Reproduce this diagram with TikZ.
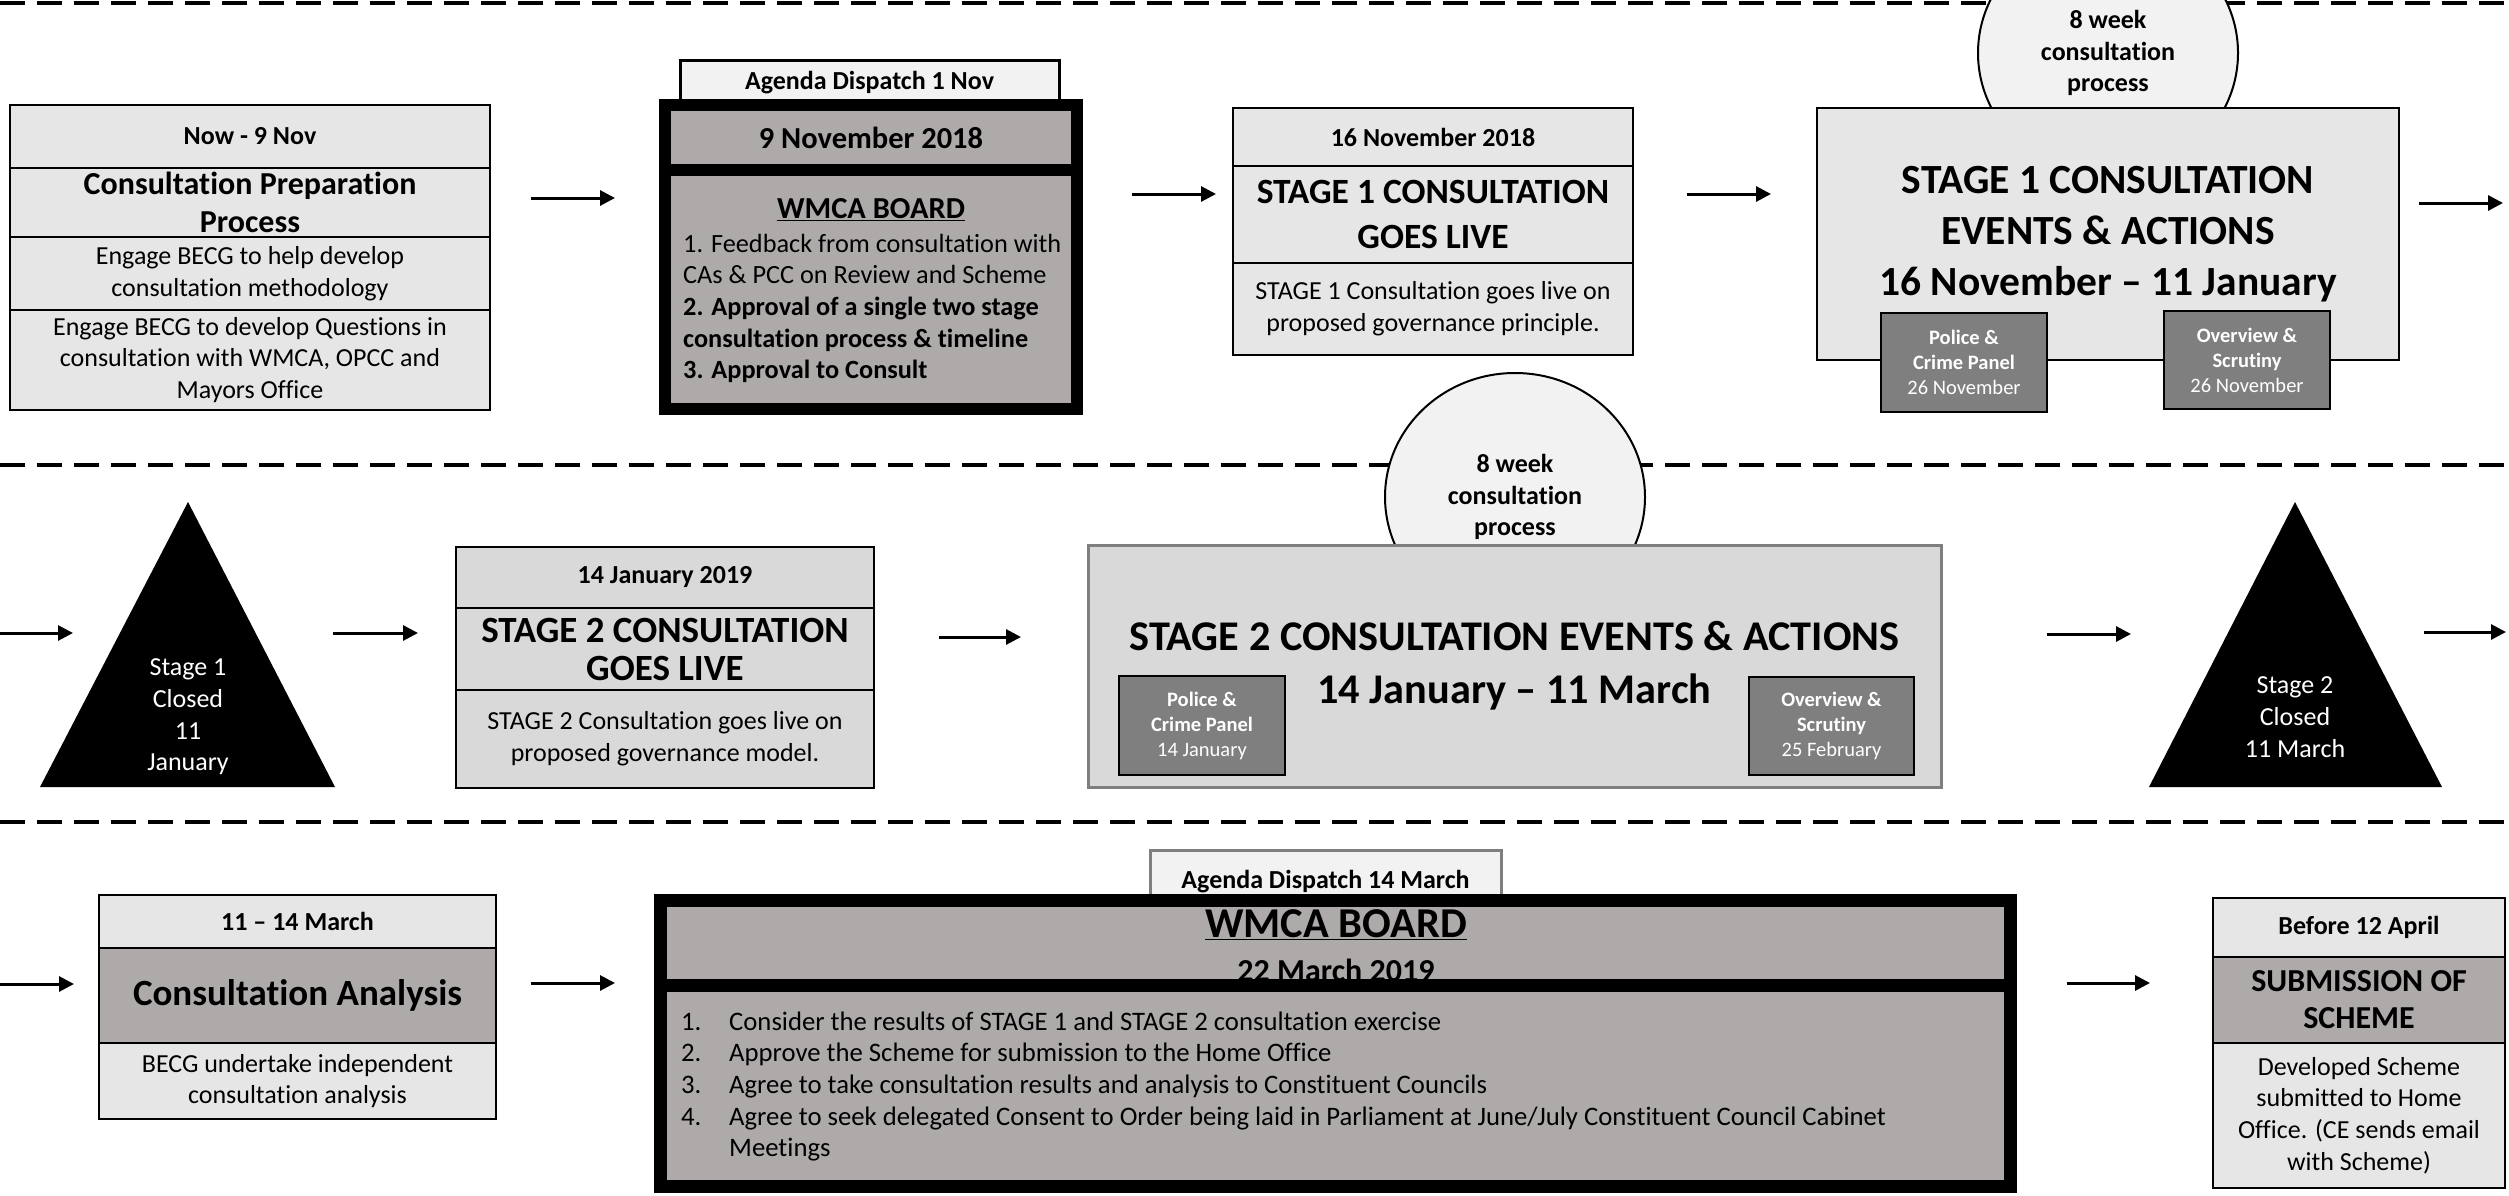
\documentclass[tikz,border=0pt]{standalone}
\usepackage{fontspec}
\setmainfont{Carlito}[Ligatures={TeX,NoCommon},RawFeature={-calt}]
\usetikzlibrary{shapes,arrows.meta}
\definecolor{boxgray}{HTML}{E6E6E6}
\definecolor{midgray}{HTML}{D9D9D9}
\definecolor{boardgray}{HTML}{AEAAAA}
\definecolor{tabgray}{HTML}{F2F2F2}
\definecolor{panelgray}{HTML}{7F7F7F}
\newcommand{\fnhead}{\fontsize{26}{31.7}\selectfont\bfseries}
\newcommand{\fnbody}{\fontsize{26}{31.7}\selectfont}
\newcommand{\fnsmall}{\fontsize{20.5}{25}\selectfont}
\tikzstyle{cell}=[rectangle,draw=black,fill=boxgray,line width=2.5,
inner sep=0pt,align=center]
\tikzstyle{board}=[rectangle,draw=black,fill=boardgray,line width=12,inner sep=0pt]
\tikzstyle{tabbox}=[rectangle,draw=black,fill=tabgray,line width=3,inner sep=0pt]
\tikzstyle{panel}=[rectangle,draw=black,fill=panelgray,line width=2.5,inner sep=0pt,
align=center,text=white,font=\fnsmall]
\tikzstyle{bubble}=[ellipse,draw=black,fill=tabgray,line width=2,inner sep=0pt,
align=center,font=\fnhead,minimum width=260,minimum height=248]
\tikzstyle{tritext}=[align=center,text=white,font=\fnbody,inner sep=0pt]
\tikzstyle{arr}=[-{Triangle[length=15pt,width=15pt]},line width=3]
\tikzstyle{divider}=[dash pattern=on 25pt off 12pt,line width=4]

\begin{document}
\begin{tikzpicture}[x=1pt,y=-1pt]
        \useasboundingbox (0,0) rectangle (2509,1196);
        \draw [style=divider] (0,3) -- (2509,3);
        \draw [style=divider] (0,465) -- (2509,465);
        \draw [style=divider] (0,822) -- (2509,822);
        % row 1
        \node [style=cell,minimum width=480,minimum height=63,font=\fnhead] (prep1) at (250,136.5) {Now - 9 Nov};
        \node [style=cell,minimum width=480,minimum height=69,font={\fontsize{32}{38}\selectfont\bfseries}] (prep2) at (250,202.5) {Consultation Preparation\\Process};
        \node [style=cell,minimum width=480,minimum height=73,font=\fnbody] (prep3) at (250,273.5) {Engage BECG to help develop\\consultation methodology};
        \node [style=cell,minimum width=480,minimum height=100,font=\fnbody] (prep4) at (250,360) {Engage BECG to develop Questions in\\consultation with WMCA, OPCC and\\Mayors Office};
        \node [style=tabbox,minimum width=379,minimum height=44,font=\fnhead] (agenda1) at (869.5,83) {Agenda Dispatch 1 Nov};
        \node [style=board,minimum width=412,minimum height=65,font={\fontsize{30.5}{37}\selectfont\bfseries}] (board1h) at (871,137.5) {9 November 2018};
        \node [style=board,minimum width=412,minimum height=239] (board1b) at (871,289.5) {};
        \node [font={\fontsize{30.5}{37}\selectfont\bfseries},inner sep=0pt] (board1t) at (871,210) {\underline{WMCA BOARD}};
        \node [anchor=west,align=left,inner sep=0pt,font={\fontsize{26.3}{31.7}\selectfont}] (board1l) at (683,308.5) {1. Feedback from consultation with\\CAs \& PCC on Review and Scheme\\\textbf{2. Approval of a single two stage}\\\textbf{consultation process \& timeline}\\\textbf{3. Approval to Consult}};
        \node [style=cell,minimum width=400,minimum height=58,font=\fnhead] (live1a) at (1433,137) {16 November 2018};
        \node [style=cell,minimum width=400,minimum height=97,font={\fontsize{35.5}{45}\selectfont\bfseries}] (live1b) at (1433,214.5) {STAGE 1 CONSULTATION\\GOES LIVE};
        \node [style=cell,minimum width=400,minimum height=92,font=\fnbody] (live1c) at (1433,309) {STAGE 1 Consultation goes live on\\proposed governance principle.};
        \node [style=bubble] (weeks1) at (2108,53) {8 week\\consultation\\process};
        \node [style=cell,minimum width=582,minimum height=252,font={\fontsize{41.5}{51}\selectfont\bfseries}] (events1) at (2108,234) {STAGE 1 CONSULTATION\\EVENTS \& ACTIONS\\16 November – 11 January};
        \node [style=panel,minimum width=166,minimum height=99] (pcp1) at (1964,362.5) {\textbf{Police \&}\\\textbf{Crime Panel}\\26 November};
        \node [style=panel,minimum width=166,minimum height=98] (oas1) at (2247,360) {\textbf{Overview \&}\\\textbf{Scrutiny}\\26 November};
        % row 2
        \fill (188,502) -- (335,787) -- (40,787) -- cycle;
        \node [style=tritext] (close1) at (188,717) {Stage 1\\Closed\\11\\January};
        \node [style=cell,fill=midgray,minimum width=418,minimum height=61,font=\fnhead] (live2a) at (665,577.5) {14 January 2019};
        \node [style=cell,fill=midgray,minimum width=418,minimum height=82,font={\fontsize{37}{38}\selectfont\bfseries}] (live2b) at (665,649) {STAGE 2 CONSULTATION\\GOES LIVE};
        \node [style=cell,fill=midgray,minimum width=418,minimum height=98,font=\fnbody] (live2c) at (665,739) {STAGE 2 Consultation goes live on\\proposed governance model.};
        \node [style=bubble] (weeks2) at (1515,497) {8 week\\consultation\\process};
        \node [style=cell,fill=midgray,draw=panelgray,line width=3,minimum width=853,minimum height=242,font={\fontsize{42.3}{53}\selectfont\bfseries}] (events2) at (1514.5,666) {STAGE 2 CONSULTATION EVENTS \& ACTIONS\\14 January – 11 March};
        \node [style=panel,minimum width=166,minimum height=99] (pcp2) at (1202,725.5) {\textbf{Police \&}\\\textbf{Crime Panel}\\14 January};
        \node [style=panel,minimum width=165,minimum height=98] (oas2) at (1831.5,726) {\textbf{Overview \&}\\\textbf{Scrutiny}\\25 February};
        \fill (2295,502) -- (2442,787) -- (2149,787) -- cycle;
        \node [style=tritext] (close2) at (2295,717) {Stage 2\\Closed\\11 March};
        % row 3
        \node [style=cell,minimum width=397,minimum height=53,font=\fnhead] (anal1) at (297.5,921.5) {11 – 14 March};
        \node [style=cell,fill=boardgray,minimum width=397,minimum height=95,font={\fontsize{37}{44}\selectfont\bfseries}] (anal2) at (297.5,995.5) {Consultation Analysis};
        \node [style=cell,minimum width=397,minimum height=76,font=\fnbody] (anal3) at (297.5,1081) {BECG undertake independent\\consultation analysis};
        \node [style=tabbox,draw=panelgray,minimum width=351,minimum height=50] (agenda2) at (1325.5,875) {};
        \node [font=\fnhead,inner sep=0pt] (agenda2t) at (1325.5,882) {Agenda Dispatch 14 March};
        \node [style=board,line width=13,minimum width=1350,minimum height=85] (board2h) at (1335.5,943) {};
        \node [font={\fontsize{42.5}{50}\selectfont\bfseries},inner sep=0pt] (board2t) at (1336,925) {\underline{WMCA BOARD}};
        \node [font={\fontsize{32}{38}\selectfont\bfseries},inner sep=0pt] (board2d) at (1336,970) {22 March 2019};
        \node [style=board,line width=13,minimum width=1350,minimum height=200.5] (board2b) at (1335.5,1085.75) {};
        \node [anchor=west,align=left,inner sep=0pt,font={\fontsize{26.7}{31.7}\selectfont}] (board2l) at (681,1086.5) {\makebox[48pt][l]{1.}Consider the results of STAGE 1 and STAGE 2 consultation exercise\\\makebox[48pt][l]{2.}Approve the Scheme for submission to the Home Office\\\makebox[48pt][l]{3.}Agree to take consultation results and analysis to Constituent Councils\\\makebox[48pt][l]{4.}Agree to seek delegated Consent to Order being laid in Parliament at June/July Constituent Council Cabinet\\\hspace*{48pt}Meetings};
        \node [style=cell,minimum width=292,minimum height=59,font=\fnhead] (submit1) at (2359,927.5) {Before 12 April};
        \node [style=cell,fill=boardgray,minimum width=292,minimum height=86,font={\fontsize{32}{37}\selectfont\bfseries}] (submit2) at (2359,1000) {SUBMISSION OF\\SCHEME};
        \node [style=cell,minimum width=292,minimum height=145,font=\fnbody] (submit3) at (2359,1115.5) {Developed Scheme\\submitted to Home\\Office. (CE sends email\\with Scheme)};
        % arrows
        \coordinate (a1s) at (531,198);
        \coordinate (a1e) at (615,198);
        \coordinate (a2s) at (1132,194);
        \coordinate (a2e) at (1216,194);
        \coordinate (a3s) at (1687,194);
        \coordinate (a3e) at (1771,194);
        \coordinate (a4s) at (2419,203);
        \coordinate (a4e) at (2503,203);
        \coordinate (a5s) at (0,633);
        \coordinate (a5e) at (73,633);
        \coordinate (a6s) at (333,633);
        \coordinate (a6e) at (418,633);
        \coordinate (a7s) at (939,637);
        \coordinate (a7e) at (1021,637);
        \coordinate (a8s) at (2047,634);
        \coordinate (a8e) at (2131,634);
        \coordinate (a9s) at (2424,632);
        \coordinate (a9e) at (2506,632);
        \coordinate (a10s) at (0,984);
        \coordinate (a10e) at (74,984);
        \coordinate (a11s) at (531,983);
        \coordinate (a11e) at (615,983);
        \coordinate (a12s) at (2067,983);
        \coordinate (a12e) at (2150,983);
        \draw [style=arr] (a1s) to (a1e);
        \draw [style=arr] (a2s) to (a2e);
        \draw [style=arr] (a3s) to (a3e);
        \draw [style=arr] (a4s) to (a4e);
        \draw [style=arr] (a5s) to (a5e);
        \draw [style=arr] (a6s) to (a6e);
        \draw [style=arr] (a7s) to (a7e);
        \draw [style=arr] (a8s) to (a8e);
        \draw [style=arr] (a9s) to (a9e);
        \draw [style=arr] (a10s) to (a10e);
        \draw [style=arr] (a11s) to (a11e);
        \draw [style=arr] (a12s) to (a12e);
    \end{tikzpicture}
\end{document}
